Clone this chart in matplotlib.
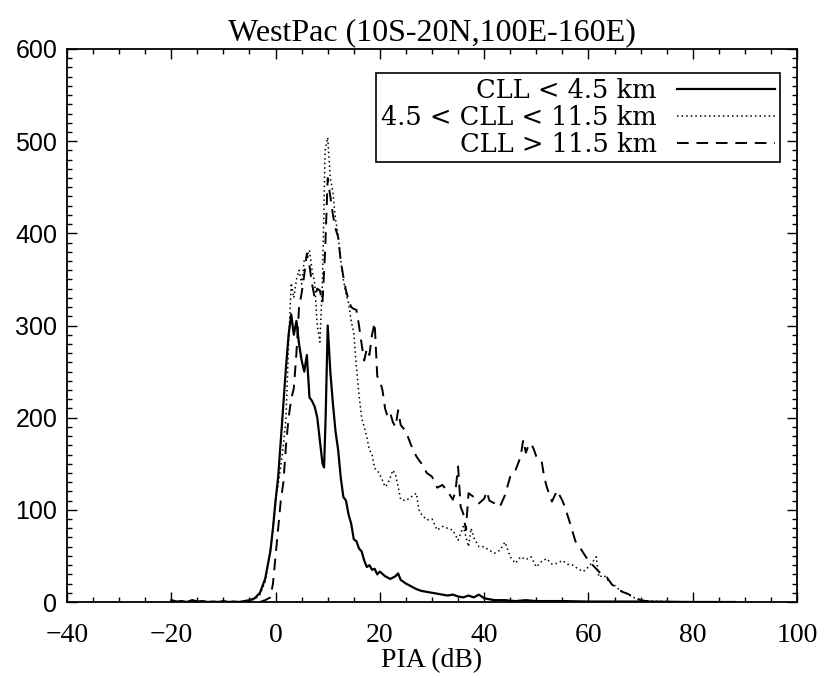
import matplotlib
matplotlib.use("Agg")
import matplotlib.pyplot as plt
from matplotlib.ticker import MultipleLocator

# PIA histograms, WestPac
x_low = [-20, -19, -18, -17, -16, -15, -14, -13, -12, -11, -10, -9, -8, -7, -6, -5, -4, -3,
         -2, -1, -0.5, 0, 0.5, 1, 1.5, 2, 2.5, 3, 3.5, 4, 4.5, 5, 5.5, 6, 6.5, 7, 7.5, 8,
         8.5, 9, 9.3, 9.6, 10, 10.5, 11, 11.5, 12, 12.5, 13, 13.5, 14, 14.5, 15, 15.5, 16,
         16.5, 17, 17.5, 18, 18.5, 19, 19.5, 20, 21, 22, 23, 23.5, 24, 25, 26, 27, 28, 29,
         30, 31, 32, 33, 34, 35, 36, 37, 38, 39, 40, 42, 44, 46, 48, 50, 55, 60, 65, 70, 80, 88]
y_low = [2, 0.5, 1, 0, 2, 0.5, 1, 0, 0.5, 0, 1, 0, 0.5, 0, 1, 2, 4, 10,
         25, 55, 80, 110, 136, 175, 215, 255, 290, 312, 290, 305, 280, 262, 250, 268, 222, 218, 212, 200,
         175, 150, 146, 200, 300, 250, 215, 185, 165, 135, 114, 110, 95, 85, 68, 66, 58,
         55, 45, 38, 40, 35, 36, 30, 33, 28, 25, 28, 31, 24, 20, 17, 14, 12, 11,
         10, 9, 8, 7, 8, 6, 5, 7, 5, 8, 4, 2, 2, 1, 2, 1, 1, 0.5, 0.5, 0.5, 0, 0]

x_mid = [-8, -6, -5, -4, -3, -2, -1, -0.5, 0, 0.5, 1, 1.5, 2, 2.5, 3, 3.5, 4, 4.5, 5, 5.5,
         6, 6.5, 7, 7.5, 8, 8.5, 9, 9.5, 10, 10.5, 11, 11.5, 12, 12.5, 13, 13.5, 14, 14.5,
         15, 15.5, 16, 16.5, 17, 17.5, 18, 18.5, 19, 19.5, 20, 20.5, 21, 21.5, 22, 22.5, 23,
         23.5, 24, 25, 26, 27, 27.5, 28, 29, 30, 31, 32, 33, 34, 35, 36, 37, 37.5, 38, 39,
         40, 41, 42, 43, 44, 45, 46, 47, 48, 49, 50, 51, 52, 53, 54, 55, 56, 57, 58, 59,
         60, 61, 61.5, 62, 63, 64, 65, 66, 67, 68, 69, 70, 72, 75, 80]
y_mid = [0, 0.5, 1, 3, 8, 22, 56, 80, 111, 128, 147, 170, 200, 280, 346, 330, 350, 360, 345, 371,
         375, 382, 360, 346, 300, 282, 350, 490, 504, 460, 444, 415, 398, 370, 350, 335, 324, 305,
         292, 255, 225, 200, 190, 179, 165, 160, 145, 143, 138, 132, 125, 128, 135, 143, 138,
         125, 111, 110, 114, 118, 100, 95, 89, 90, 78, 82, 80, 78, 67, 82, 60, 80, 70, 60,
         60, 56, 53, 56, 65, 49, 42, 49, 46, 49, 38, 44, 47, 41, 42, 45, 41, 40, 36, 33,
         38, 45, 49, 27, 29, 22, 18, 13, 10, 7, 4, 2, 1, 0.5, 0]

x_high = [-3, -2, -1, -0.5, 0, 0.5, 1, 1.5, 2, 2.5, 3, 3.5, 4, 4.5, 5, 5.5, 6, 6.5, 7, 7.5,
          8, 8.5, 9, 9.5, 10, 10.5, 11, 11.5, 12, 12.5, 13, 13.5, 14, 14.5, 15, 15.5, 16, 16.5,
          17, 17.5, 18, 18.5, 19, 19.5, 20, 20.5, 21, 21.5, 22, 22.5, 23, 23.5, 24, 25, 26, 27,
          28, 29, 30, 31, 32, 33, 34, 34.5, 35, 35.5, 36, 36.5, 37, 38, 39, 40, 40.5, 41, 42,
          43, 44, 45, 46, 46.5, 47, 47.5, 48, 48.5, 49, 49.5, 50, 51, 51.5, 52, 53, 54, 55,
          55.5, 56.5, 57.5, 58.5, 59.5, 60.5, 61.5, 62.5, 63.5, 64.5, 65.5, 66.5, 67.5, 68.5,
          70, 71, 72]
y_high = [0, 2, 5, 20, 50, 80, 110, 130, 170, 200, 220, 232, 270, 320, 335, 355, 378, 365, 345, 330,
          340, 338, 325, 380, 460, 440, 420, 405, 396, 370, 353, 338, 328, 320, 318, 317, 300, 280,
          262, 275, 268, 290, 303, 245, 240, 230, 210, 201, 205, 195, 190, 208, 192, 185, 170, 158,
          150, 140, 136, 124, 127, 120, 111, 120, 147, 103, 96, 78, 118, 114, 107, 112, 120, 110, 107,
          103, 116, 136, 143, 150, 158, 176, 162, 170, 172, 166, 158, 154, 136, 125, 109, 121, 110,
          103, 85, 66, 58, 49, 42, 36, 30, 27, 19, 15, 11, 9, 6,
          2, 1, 0]

labels = ["CLL < 4.5 km", "4.5 < CLL < 11.5 km", "CLL > 11.5 km"]

fig = plt.figure(figsize=(8.24, 6.78), dpi=100)
ax = fig.add_axes([67 / 824, 1 - 602 / 678, 730 / 824, 553 / 678])

ax.plot(x_low, y_low, color="black", lw=1.6, label=labels[0])
ax.plot(x_mid, y_mid, color="black", lw=1.1, linestyle=(0, (1, 2)), label=labels[1])
ax.plot(x_high, y_high, color="black", lw=1.4, linestyle=(0, (6, 4)), label=labels[2])

ax.set_xlim(-40, 100)
ax.set_ylim(0, 600)

ax.xaxis.set_major_locator(MultipleLocator(20))
ax.xaxis.set_minor_locator(MultipleLocator(5))
ax.yaxis.set_major_locator(MultipleLocator(100))
ax.yaxis.set_minor_locator(MultipleLocator(10))
ax.tick_params(which="both", direction="in", top=True, right=True, width=1.0)
ax.tick_params(which="major", length=7.5)
ax.tick_params(which="minor", length=3.8)
ax.tick_params(axis="x", pad=15, labelsize=20)
ax.tick_params(axis="y", pad=7, labelsize=18)
for lab in ax.get_xticklabels():
    lab.set_family("Liberation Serif")
for lab in ax.get_yticklabels():
    lab.set_family("Liberation Sans")
for sp in ax.spines.values():
    sp.set_linewidth(1.3)

ax.set_xlabel("PIA (dB)", family="Liberation Serif", fontsize=20, labelpad=0)
ax.set_title("WestPac (10S-20N,100E-160E)", family="Liberation Serif", fontsize=23, pad=6)

leg = ax.legend(loc="upper right", bbox_to_anchor=(0.977, 0.957), markerfirst=False,
                alignment="right", frameon=True, fancybox=False, edgecolor="black",
                framealpha=1, borderpad=0.2, labelspacing=0.08, handlelength=3.8,
                handletextpad=0.8, borderaxespad=0,
                prop={"family": "DejaVu Serif", "size": 18.5})
leg.get_frame().set_linewidth(1.2)

fig.savefig("out.png", dpi=100)
